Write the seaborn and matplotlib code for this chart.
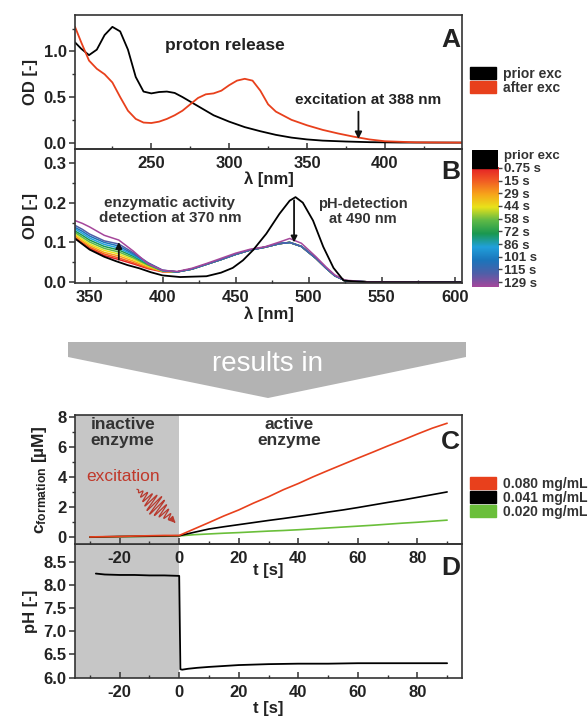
import numpy as np
import pandas as pd
import matplotlib
matplotlib.use("Agg")
import matplotlib.pyplot as plt
import seaborn as sns
from matplotlib.patches import Patch, Polygon, Rectangle
from matplotlib.colors import LinearSegmentedColormap
from matplotlib.ticker import MultipleLocator

# ---- Panel A: absorption spectra before / after excitation
a_wl_prior = [201, 205, 210, 215, 220, 225, 230, 235, 240, 245, 250, 255, 260, 265,
              270, 280, 290, 300, 310, 320, 330, 340, 350, 360, 375, 390, 410, 450]
a_od_prior = [1.10, 1.03, 0.96, 1.02, 1.18, 1.27, 1.22, 1.02, 0.72, 0.56, 0.54, 0.555,
              0.56, 0.545, 0.50, 0.40, 0.30, 0.23, 0.17, 0.125, 0.085, 0.055, 0.035,
              0.022, 0.012, 0.005, 0.001, 0.0]
a_wl_after = [201, 205, 210, 215, 220, 225, 230, 235, 240, 245, 250, 255, 260, 265, 270,
              275, 280, 285, 290, 295, 300, 305, 310, 315, 320, 325, 330, 340, 350, 360,
              370, 380, 390, 400, 420, 450]
a_od_after = [1.27, 1.10, 0.90, 0.81, 0.75, 0.66, 0.50, 0.35, 0.26, 0.22, 0.215, 0.23,
              0.26, 0.30, 0.35, 0.42, 0.49, 0.53, 0.54, 0.57, 0.63, 0.68, 0.70, 0.68,
              0.57, 0.42, 0.34, 0.25, 0.19, 0.14, 0.10, 0.065, 0.035, 0.015, 0.003, 0.0]
a_labels = ["prior exc", "after exc"]
a_colors = ["#000000", "#e8401c"]

# ---- Panel B: spectra after excitation over time
b_wl_prior = [340, 350, 360, 368, 376, 384, 392, 400, 412, 430, 440, 448, 455, 462, 471,
              480, 487, 491, 496, 503, 510, 517, 524, 540, 605]
b_od_prior = [0.110, 0.082, 0.064, 0.053, 0.043, 0.035, 0.025, 0.017, 0.013, 0.015, 0.024,
              0.036, 0.055, 0.081, 0.122, 0.172, 0.205, 0.214, 0.200, 0.155, 0.089, 0.036,
              0.004, 0.0, 0.0]
b_wl_left = [340, 345, 350, 360, 370, 380, 390, 400]
b_wl_right = [410, 420, 430, 440, 450, 460, 470, 480, 487, 495, 505, 512, 518, 525, 540, 605]
b_times = ["0.75 s", "15 s", "29 s", "44 s", "58 s", "72 s", "86 s", "101 s", "115 s", "129 s"]
b_left = [
    [0.110, 0.097, 0.085, 0.067, 0.057, 0.046, 0.034, 0.026],
    [0.113, 0.100, 0.088, 0.071, 0.061, 0.049, 0.036, 0.027],
    [0.117, 0.104, 0.092, 0.075, 0.066, 0.053, 0.038, 0.027],
    [0.121, 0.108, 0.096, 0.080, 0.071, 0.057, 0.041, 0.028],
    [0.125, 0.113, 0.101, 0.085, 0.076, 0.061, 0.043, 0.028],
    [0.129, 0.118, 0.106, 0.090, 0.081, 0.065, 0.045, 0.029],
    [0.134, 0.123, 0.111, 0.095, 0.086, 0.068, 0.047, 0.029],
    [0.138, 0.128, 0.116, 0.100, 0.091, 0.071, 0.048, 0.030],
    [0.143, 0.133, 0.121, 0.104, 0.096, 0.074, 0.049, 0.030],
    [0.155, 0.148, 0.139, 0.118, 0.106, 0.078, 0.046, 0.030],
]
b_tail_main = [0.026, 0.033, 0.045, 0.057, 0.070, 0.081, 0.088, 0.097, 0.100, 0.090,
               0.060, 0.035, 0.016, 0.004, 0.001, 0.0]
b_tail_129 = [0.027, 0.035, 0.047, 0.060, 0.073, 0.083, 0.089, 0.101, 0.110, 0.098,
              0.064, 0.038, 0.018, 0.005, 0.001, 0.0]
b_tails = [b_tail_main] * 9 + [b_tail_129]
b_colors = ["#e41e26", "#f15a24", "#f7a21b", "#e9e21a", "#5fb946", "#1a9850",
            "#21a0db", "#1b75bb", "#4f5fa8", "#a5479b"]

# ---- Panel C: product formation
t_c = [-30, -25, -20, -15, -10, -5, 0, 5, 10, 15, 20, 25, 30, 35, 40, 45, 50, 55, 60,
       65, 70, 75, 80, 85, 90]
c_080 = [0.02, 0.04, 0.05, 0.08, 0.10, 0.12, 0.12, 0.55, 0.98, 1.42, 1.82, 2.28, 2.70,
         3.17, 3.58, 4.03, 4.45, 4.86, 5.27, 5.67, 6.08, 6.47, 6.88, 7.27, 7.60]
c_041 = [0.01, 0.03, 0.05, 0.06, 0.07, 0.09, 0.10, 0.33, 0.55, 0.70, 0.84, 0.98, 1.12,
         1.25, 1.39, 1.53, 1.68, 1.82, 1.98, 2.15, 2.32, 2.48, 2.66, 2.84, 3.02]
c_020 = [0.00, 0.02, 0.04, 0.05, 0.06, 0.07, 0.09, 0.17, 0.22, 0.27, 0.31, 0.36, 0.41,
         0.45, 0.50, 0.56, 0.62, 0.68, 0.74, 0.80, 0.87, 0.94, 1.00, 1.07, 1.14]
c_labels = ["0.080 mg/mL", "0.041 mg/mL", "0.020 mg/mL"]
c_colors = ["#e8401c", "#000000", "#6abf3a"]

# ---- Panel D: pH
t_d = [-28, -25, -20, -15, -10, -5, 0.0, 0.4, 1, 3, 6, 10, 15, 20, 30, 40, 50, 60, 70, 80, 90]
ph_d = [8.25, 8.23, 8.22, 8.22, 8.21, 8.21, 8.20, 6.18, 6.17, 6.19, 6.21, 6.23, 6.25, 6.27,
        6.29, 6.30, 6.30, 6.31, 6.31, 6.31, 6.31]

sns.set_theme(style="ticks")
plt.rcParams['font.family'] = ['Liberation Sans', 'DejaVu Sans']
plt.rcParams['font.weight'] = 'bold'
plt.rcParams['axes.labelweight'] = 'bold'
plt.rcParams['mathtext.default'] = 'regular'
plt.rcParams['axes.unicode_minus'] = False
TXT = '#222222'

fig = plt.figure(figsize=(5.88, 7.24), dpi=100)


def px_axes(l, t, r, b):
    return fig.add_axes([l / 588, 1 - b / 724, (r - l) / 588, (b - t) / 724])


def style(ax, xmaj, xmin, ymaj, ymin=None):
    ax.xaxis.set_major_locator(MultipleLocator(xmaj))
    ax.xaxis.set_minor_locator(MultipleLocator(xmin))
    ax.yaxis.set_major_locator(MultipleLocator(ymaj))
    if ymin:
        ax.yaxis.set_minor_locator(MultipleLocator(ymin))
    ax.tick_params(axis='x', which='both', direction='in', top=False, pad=5)
    ax.tick_params(axis='y', which='both', direction='out', right=False, pad=2)
    ax.tick_params(which='major', length=4, width=1.1, labelsize=12, colors='#333', labelcolor=TXT)
    ax.tick_params(which='minor', length=2.5, width=1, colors='#333')
    for s in ax.spines.values():
        s.set_linewidth(1.2)
        s.set_color('#333')
    ax.set_facecolor('none')


def letter(ax, s, y):
    ax.text(0.995, y, s, transform=ax.transAxes, ha='right', va='center',
            fontsize=19, weight='bold', color=TXT)


# ---------- A
axA = px_axes(75, 15, 462, 149)
sns.lineplot(x=a_wl_prior, y=a_od_prior, color=a_colors[0], lw=1.3, ax=axA, estimator=None)
sns.lineplot(x=a_wl_after, y=a_od_after, color=a_colors[1], lw=1.3, ax=axA, estimator=None)
axA.set_xlim(201, 449.5)
axA.set_ylim(-0.07, 1.4)
style(axA, 50, 25, 0.5, 0.25)
axA.set_xlabel('λ [nm]', fontsize=12, labelpad=0, color=TXT)
axA.set_ylabel('OD [-]', fontsize=12, labelpad=4, color=TXT)
axA.text(297, 1.07, 'proton release', ha='center', va='center', fontsize=12.5, color=TXT)
axA.text(389, 0.47, 'excitation at 388 nm', ha='center', va='center', fontsize=11, color=TXT)
axA.annotate('', xy=(383, 0.01), xytext=(383, 0.37),
             arrowprops=dict(arrowstyle='-|>', color='#111', lw=1.3, mutation_scale=10))
letter(axA, 'A', 0.81)
fig.legend(handles=[Patch(color=c, label=l) for c, l in zip(a_colors, a_labels)],
           loc='upper left', bbox_to_anchor=(470 / 588, 1 - 67 / 724), frameon=False,
           handlelength=1.9, handleheight=0.95, labelspacing=0, handletextpad=0.5,
           borderpad=0, borderaxespad=0, prop=dict(size=10, weight='bold'), labelcolor='#333')

# ---------- B
axB = px_axes(75, 149, 462, 283)
rows = []
for lab, left, tail in zip(b_times, b_left, b_tails):
    for w, v in zip(b_wl_left + b_wl_right, left + tail):
        rows.append(dict(wl=w, od=v, time=lab))
dfB = pd.DataFrame(rows)
sns.lineplot(data=dfB, x='wl', y='od', hue='time', palette=dict(zip(b_times, b_colors)),
             lw=1.1, legend=False, ax=axB, estimator=None, sort=False)
sns.lineplot(x=b_wl_prior, y=b_od_prior, color='black', lw=1.3, ax=axB, estimator=None)
axB.set_xlim(340, 605)
axB.set_ylim(-0.002, 0.335)
style(axB, 50, 25, 0.1, 0.05)
axB.set_xlabel('λ [nm]', fontsize=12, labelpad=1, color=TXT)
axB.set_ylabel('OD [-]', fontsize=12, labelpad=4, color=TXT)
axB.text(405, 0.18, 'enzymatic activity\ndetection at 370 nm', ha='center', va='center',
         fontsize=11, linespacing=1.05, color='#333')
axB.text(537, 0.178, 'pH-detection\nat 490 nm', ha='center', va='center',
         fontsize=10.5, linespacing=1.05, color='#333')
axB.annotate('', xy=(370, 0.108), xytext=(370, 0.050),
             arrowprops=dict(arrowstyle='-|>', color='#111', lw=1.3, mutation_scale=9))
axB.annotate('', xy=(490, 0.093), xytext=(490, 0.213),
             arrowprops=dict(arrowstyle='-|>', color='#111', lw=1.3, mutation_scale=9))
letter(axB, 'B', 0.83)

# colour bar of the time series
cax = px_axes(472, 150, 498, 287)
top = 0.869
cmap = LinearSegmentedColormap.from_list('times', b_colors)
cax.imshow(np.linspace(0, 1, 256)[:, None], aspect='auto', cmap=cmap,
           extent=[0, 1, 0.0, top], origin='upper')
cax.add_patch(Rectangle((0, top), 1, 1 - top, color='black'))
cax.set_xlim(0, 1)
cax.set_ylim(0, 1)
cax.set_xticks([])
cax.yaxis.tick_right()
ticks = [0.965] + list(np.linspace(top, 0.036, len(b_times)))
cax.set_yticks(ticks)
cax.set_yticklabels(['prior exc'] + b_times)
cax.tick_params(axis='y', direction='out', length=3, width=1, pad=1, labelsize=9.5,
                colors='#444', labelcolor='#333')
cax.yaxis.get_major_ticks()[0].tick2line.set_visible(False)
for s in cax.spines.values():
    s.set_visible(False)

# ---------- "results in" arrow
fig.patches.append(Polygon([(68 / 588, 1 - 342 / 724), (466 / 588, 1 - 342 / 724),
                            (466 / 588, 1 - 357 / 724), (268 / 588, 1 - 398 / 724),
                            (68 / 588, 1 - 357 / 724)], closed=True,
                           transform=fig.transFigure, facecolor='#b3b3b3', edgecolor='none'))
fig.text(268 / 588, 1 - 364 / 724, 'results in', color='white', fontsize=20,
         weight='normal', ha='center', va='center')

# ---------- D (drawn first so that the C tick labels stay on top of its shading)
axD = px_axes(75, 544, 462, 678)
axD.axvspan(-35, 0, color='#c6c6c6', zorder=0, lw=0)
sns.lineplot(x=t_d, y=ph_d, color='black', lw=1.3, ax=axD, estimator=None)
axD.set_xlim(-35, 95)
axD.set_ylim(5.99, 8.89)
style(axD, 20, 10, 0.5)
axD.set_xlabel('t [s]', fontsize=12, labelpad=1, color=TXT)
axD.set_ylabel('pH [-]', fontsize=12, labelpad=4, color=TXT)
letter(axD, 'D', 0.82)

# ---------- C
axC = px_axes(75, 415, 462, 544)
axC.set_zorder(3)
axC.axvspan(-35, 0, color='#c6c6c6', zorder=0, lw=0)
for y, c in zip([c_020, c_041, c_080], [c_colors[2], c_colors[1], c_colors[0]]):
    sns.lineplot(x=t_c, y=y, color=c, lw=1.2, ax=axC, estimator=None)
axC.set_xlim(-35, 95)
axC.set_ylim(-0.45, 8.15)
style(axC, 20, 10, 2, 1)
axC.set_xlabel('t [s]', fontsize=12, labelpad=-2, color=TXT)
axC.set_ylabel(r'c$_{formation}$ [µM]', fontsize=12.5, labelpad=6, color=TXT)
axC.text(-19, 7.0, 'inactive\nenzyme', ha='center', va='center', fontsize=12.5,
         linespacing=1.05, color='#333')
axC.text(37, 7.0, 'active\nenzyme', ha='center', va='center', fontsize=12.5,
         linespacing=1.05, color='#333')
axC.text(-18.8, 4.07, 'excitation', ha='center', va='center', fontsize=12.5,
         weight='normal', color='#c0392b')
# wavy excitation symbol (drawn in pixel-like units, then mapped back)
sx, sy = 2.985, 15.0
p0 = np.array([-14.2 * sx, 3.2 * sy])
p1 = np.array([-1.6 * sx, 1.05 * sy])
u = p1 - p0
n = np.array([-u[1], u[0]]) / np.hypot(*u)
s = np.linspace(0, 1, 600)
env = 1 - np.abs(2 * s - 1)
wave = p0 + np.outer(s, u) + np.outer(11 * env * np.sin(2 * np.pi * 11 * s), n)
axC.plot(wave[:, 0] / sx, wave[:, 1] / sy, color='#b83a2e', lw=0.9)
axC.annotate('', xy=(-0.6, 0.82), xytext=(-2.2, 1.15),
             arrowprops=dict(arrowstyle='-|>', color='#b83a2e', lw=1.0, mutation_scale=9))
letter(axC, 'C', 0.79)
fig.legend(handles=[Patch(color=c, label=l) for c, l in zip(c_colors, c_labels)],
           loc='upper left', bbox_to_anchor=(470 / 588, 1 - 477 / 724), frameon=False,
           handlelength=1.9, handleheight=0.95, labelspacing=0, handletextpad=0.5,
           borderpad=0, borderaxespad=0, prop=dict(size=10, weight='bold'), labelcolor='#333')

fig.savefig('out.png', dpi=100)
